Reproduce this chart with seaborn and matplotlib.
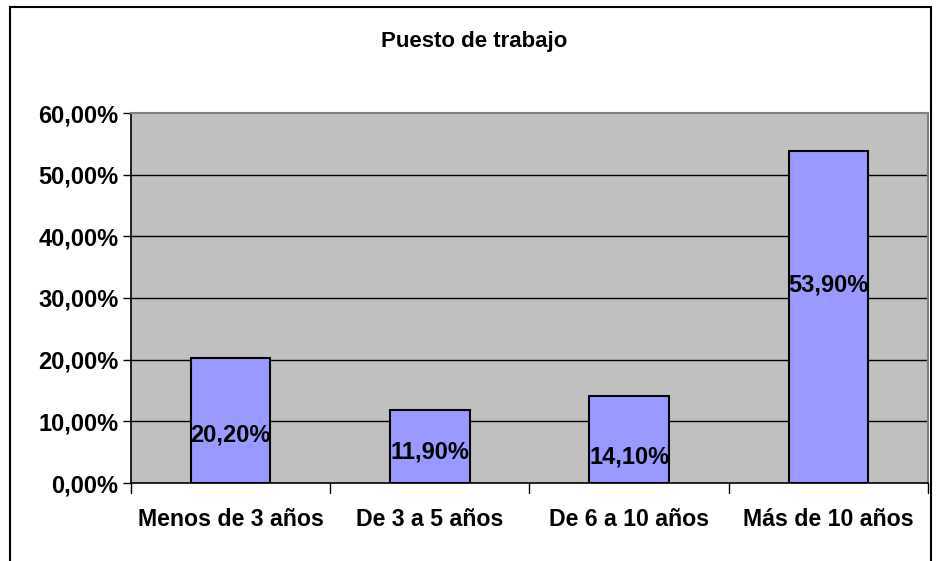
import matplotlib
matplotlib.use("Agg")
import matplotlib.pyplot as plt
import seaborn as sns
import pandas as pd
from matplotlib.patches import Rectangle

categories = ["Menos de 3 años", "De 3 a 5 años", "De 6 a 10 años", "Más de 10 años"]
values = [20.2, 11.9, 14.1, 53.9]
value_labels = ["20,20%", "11,90%", "14,10%", "53,90%"]
y_ticks = [0, 10, 20, 30, 40, 50, 60]
y_tick_labels = ["0,00%", "10,00%", "20,00%", "30,00%", "40,00%", "50,00%", "60,00%"]
# where Excel put the data labels (in axis units)
label_pos = [7.8, 5.0, 4.2, 32.1]

df = pd.DataFrame({"cat": categories, "val": values})

sns.set_theme(style="white")
plt.rcParams["font.family"] = ["Liberation Sans", "DejaVu Sans"]
plt.rcParams["font.weight"] = "bold"
plt.rcParams["text.color"] = "black"
plt.rcParams["xtick.color"] = "black"
plt.rcParams["ytick.color"] = "black"

fig = plt.figure(figsize=(9.37, 5.61), dpi=100)
fig.patch.set_facecolor("white")
ax = fig.add_axes([131 / 937, 1 - 483 / 561, (928 - 131) / 937, (483 - 113) / 561])

sns.barplot(data=df, x="cat", y="val", color="#9999FF", saturation=1,
            width=0.4, edgecolor="black", linewidth=1.5, ax=ax, zorder=3)

ax.set_facecolor("#C0C0C0")
ax.set_ylim(0, 60)
ax.set_xlim(-0.5, 3.5)
ax.set_yticks(y_ticks)
ax.set_yticklabels(y_tick_labels, fontsize=17, fontweight="bold", color="black")
ax.set_xticks(range(len(categories)))
ax.set_xticklabels(categories, fontsize=16.7, fontweight="bold", color="black")
ax.tick_params(axis="x", length=0, pad=18)
ax.tick_params(axis="y", left=True, length=6, width=1, color="black", pad=3)
ax.set_xlabel("")
ax.set_ylabel("")

for y in y_ticks[1:-1]:
    ax.axhline(y, color="black", linewidth=1, zorder=1)

# category separator ticks under the axis
for xb in [-0.5, 0.5, 1.5, 2.5, 3.5]:
    ax.plot([xb, xb], [0, -1.6], color="black", linewidth=1, clip_on=False, zorder=4)

for sp in ["top", "right"]:
    ax.spines[sp].set_color("#808080")
    ax.spines[sp].set_linewidth(1.5)
ax.spines["left"].set_color("black")
ax.spines["bottom"].set_color("black")
ax.spines["left"].set_linewidth(1.2)
ax.spines["bottom"].set_linewidth(1.2)

for i, (lab, ly) in enumerate(zip(value_labels, label_pos)):
    ax.text(i, ly, lab, ha="center", va="center", fontsize=17,
            fontweight="bold", color="black", zorder=5)

fig.text(474 / 937, 1 - 41 / 561, "Puesto de trabajo", ha="center", va="center",
         fontsize=16, fontweight="bold", color="black")

# chart frame (cut off at the bottom in the original)
fig.patches.append(Rectangle((10 / 937, -0.05), (931 - 10) / 937, 1.05 - 7 / 561,
                             transform=fig.transFigure, fill=False,
                             edgecolor="black", linewidth=1.5, zorder=0))

fig.savefig("out.png", dpi=100)
